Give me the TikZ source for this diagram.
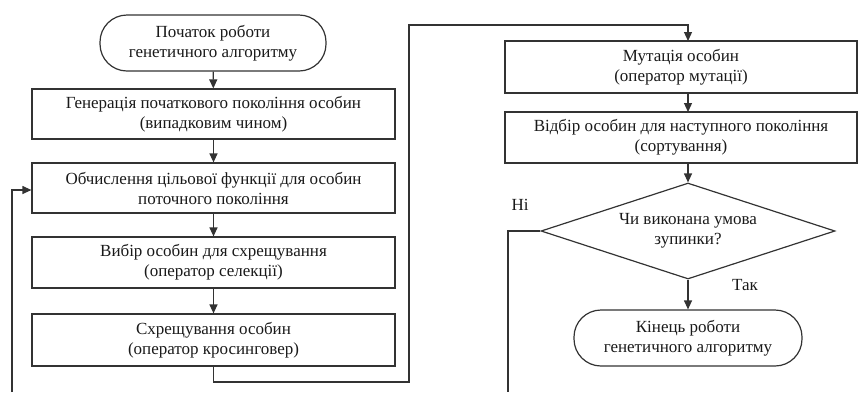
\documentclass[tikz,border=0pt]{standalone}
\usepackage{fontspec}
\setmainfont{Liberation Serif}
\usetikzlibrary{shapes.geometric,arrows.meta}
\begin{document}
\begin{tikzpicture}[x=1pt,y=-1pt,
  every node/.style={font=\fontsize{17}{20}\selectfont, text=black!90, align=center, inner sep=0pt},
  proc/.style={draw=black!80, line width=1.2pt, rectangle, minimum height=50pt},
  term/.style={draw=black!80, line width=1.2pt, rectangle, rounded corners=27pt, minimum height=56pt},
  dec/.style={draw=black!80, line width=1.2pt, diamond, aspect=3.06, minimum width=294pt, minimum height=96pt},
  conn/.style={draw=black!80, line width=1.2pt, -{Triangle[length=9pt,width=8pt]}},
  line/.style={draw=black!80, line width=1.2pt}
]
\useasboundingbox (0,0) rectangle (858,392);
\node[term, minimum width=226pt] (start) at (213,43) {Початок роботи\\генетичного алгоритму};
\node[proc, minimum width=363pt] (b1) at (213.5,114) {Генерація початкового покоління особин\\(випадковим чином)};
\node[proc, minimum width=363pt] (b2) at (213.5,188) {Обчислення цільової функції для особин\\поточного покоління};
\node[proc, minimum width=363pt, minimum height=51pt] (b3) at (213.5,262.5) {Вибір особин для схрещування\\(оператор селекції)};
\node[proc, minimum width=363pt, minimum height=52pt] (b4) at (213.5,340) {Схрещування особин\\(оператор кросинговер)};
\node[proc, minimum width=352pt, minimum height=52pt] (mut) at (681,67) {Мутація особин\\(оператор мутації)};
\node[proc, minimum width=352pt, minimum height=51pt] (sel) at (681,137.5) {Відбір особин для наступного покоління\\(сортування)};
\node[dec] (dec) at (688,231) {Чи виконана умова\\зупинки?};
\node[term, minimum width=228pt] (end) at (688,338) {Кінець роботи\\генетичного алгоритму};
\node (no) at (520,205) {Ні};
\node (yes) at (745,285) {Так};

\coordinate (c1) at (213.5,382);
\coordinate (c2) at (409,382);
\coordinate (c3) at (409,25);
\coordinate (c4) at (688,25);
\coordinate (mutin) at (688,41);
\coordinate (mutout) at (688,93);
\coordinate (selin) at (688,112);
\coordinate (selout) at (688,163);
\coordinate (n1) at (508,231);
\coordinate (n2) at (508,392);
\coordinate (l1) at (12,392);
\coordinate (l2) at (12,190);
\coordinate (b2in) at (b2.west |- l2);

\draw[conn] (start) -- (b1);
\draw[conn] (b1) -- (b2);
\draw[conn] (b2) -- (b3);
\draw[conn] (b3) -- (b4);
\draw[conn] (b4.south) -- (c1) -- (c2) -- (c3) -- (c4) -- (mutin);
\draw[conn] (mutout) -- (selin);
\draw[conn] (selout) -- (dec.north);
\draw[conn] (dec.south) -- (end.north);
\draw[line] (dec.west) -- (n1) -- (n2);
\draw[conn] (l1) -- (l2) -- (b2in);
\end{tikzpicture}
\end{document}
